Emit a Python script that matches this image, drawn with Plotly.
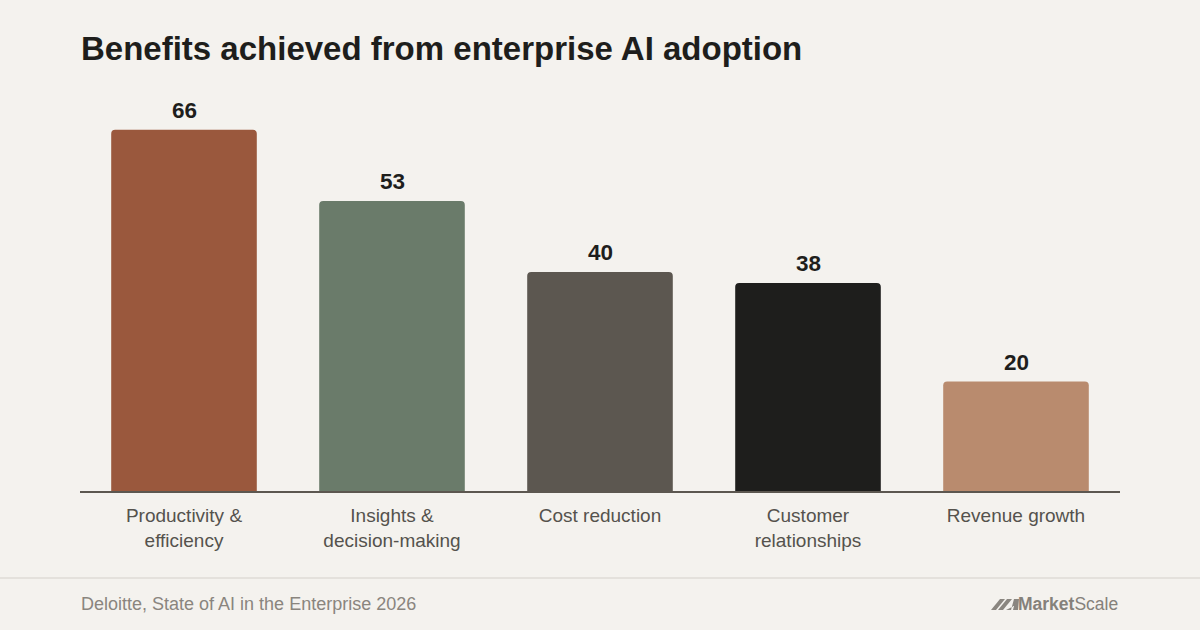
import plotly.graph_objects as go

categories = ["Productivity &<br>efficiency", "Insights &<br>decision-making", "Cost reduction",
              "Customer<br>relationships", "Revenue growth"]
values = [66, 53, 40, 38, 20]
colors = ["#9a583d", "#6a7b6a", "#5c5750", "#1e1e1c", "#b98b6e"]

W, H = 1200, 630
L, R, T, B = 80, 80, 97, 139
pw, ph = W - L - R, H - T - B

def px(x):
    return (x - L) / pw

def py(y):
    return (H - B - y) / ph

fig = go.Figure(go.Bar(
    x=categories, y=values,
    marker=dict(color=colors, line=dict(width=0)),
    width=0.7,
    hoverinfo="skip",
))

shapes = [
    dict(type="line", xref="paper", yref="paper", x0=px(0), x1=px(1200), y0=py(578), y1=py(578),
         line=dict(color="#e4e1dc", width=2)),
]
icon = [
    [(991, 610), (996, 610), (1005, 599), (1000, 599)],
    [(998, 610), (1003, 610), (1012, 599), (1007, 599)],
    [(1006, 610), (1011, 610), (1014, 599), (1019, 599), (1018, 610), (1013, 610), (1014, 606)],
]
for poly in icon:
    path = "M " + " L ".join(f"{px(x)},{py(y)}" for x, y in poly) + " Z"
    shapes.append(dict(type="path", xref="paper", yref="paper", path=path,
                       fillcolor="#8a8680", line=dict(width=0)))

annotations = [
    dict(x=c, y=v, xref="x", yref="y", text=f"<b>{v}</b>", showarrow=False,
         xanchor="center", yanchor="bottom", yshift=5,
         font=dict(size=22.5, color="#1e1e1c"))
    for c, v in zip(categories, values)
]
annotations += [
    dict(text="<b>Benefits achieved from enterprise AI adoption</b>", xref="paper", yref="paper",
         x=px(79), y=py(48), xanchor="left", yanchor="middle", showarrow=False,
         font=dict(size=33, color="#1e1e1c")),
    dict(text="Deloitte, State of AI in the Enterprise 2026", xref="paper", yref="paper",
         x=px(79), y=py(604), xanchor="left", yanchor="middle", showarrow=False,
         font=dict(size=18, color="#8a857e")),
    dict(text="<b>Market</b>Scale", xref="paper", yref="paper",
         x=px(1120), y=py(604), xanchor="right", yanchor="middle", showarrow=False,
         font=dict(size=17.5, color="#85817b")),
]

fig.update_layout(
    width=W, height=H,
    margin=dict(l=L, r=R, t=T, b=B),
    paper_bgcolor="#f4f2ee", plot_bgcolor="#f4f2ee",
    barcornerradius=4,
    showlegend=False,
    font=dict(family="Liberation Sans"),
    xaxis=dict(showgrid=False, showline=True, linecolor="#5c5750", linewidth=2,
               ticks="", ticklabelstandoff=6,
               tickfont=dict(size=19, color="#55524d"), fixedrange=True),
    yaxis=dict(range=[0, 72], visible=False, fixedrange=True),
    shapes=shapes,
    annotations=annotations,
)

fig.write_html("out.html", config={"displayModeBar": False},
               post_script="document.body.style.margin='0';document.body.style.background='#f4f2ee';")
